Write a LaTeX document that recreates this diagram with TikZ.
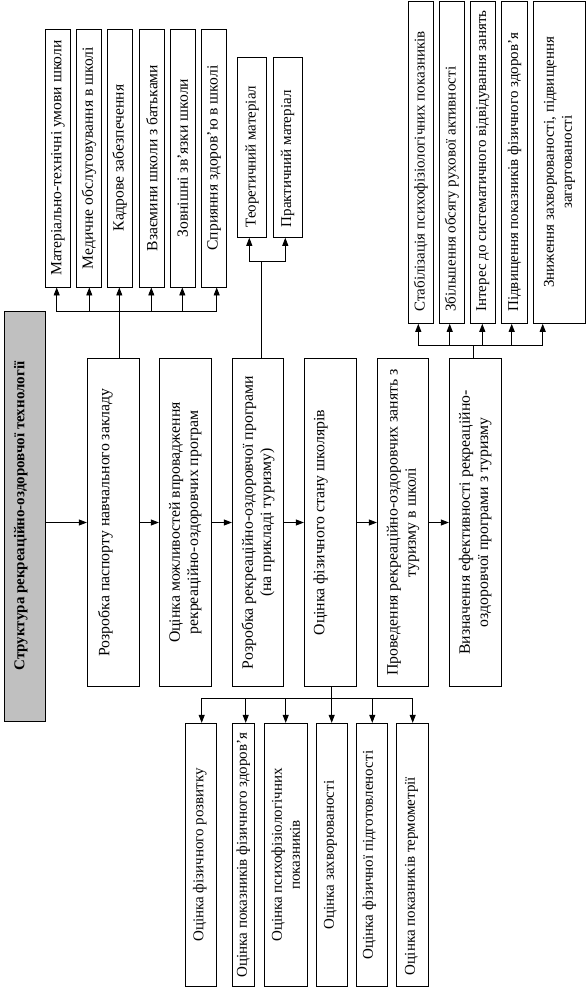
\documentclass[tikz,border=0pt]{standalone}
\usepackage{fontspec}
\setmainfont{Liberation Serif}
\usepackage{graphicx}
\usetikzlibrary{arrows.meta}
\definecolor{titlegray}{HTML}{C0C0C0}
\newcommand\rotc[2]{\rotatebox{90}{\parbox{#1}{\centering #2}}}
\newcommand\rotl[2]{\rotatebox{90}{\parbox{#1}{\raggedright\mbox{#2}}}}
\newcommand\rots[1]{\rotatebox{90}{#1}}
% rotated single line, shifted to the page-left by half of #1
\newcommand\rotsd[2]{\rotatebox{90}{#2\rule[-#1]{0pt}{#1}}}
\begin{document}
\begin{tikzpicture}[x=1pt,y=-1pt,
  box/.style={draw, line width=0.9pt, inner sep=0pt, fill=white,
    font=\fontsize{15}{18}\selectfont},
  topbox/.style={box, font=\fontsize{15.6}{18}\selectfont},
  mainbox/.style={box, font=\fontsize{15.8}{18.3}\selectfont},
  conn/.style={line width=0.9pt},
  arr/.style={conn,-{Triangle[length=8pt,width=6pt]}}]
\useasboundingbox (0,0) rectangle (586,988);
% top-left group
\node[topbox, minimum width=25pt, minimum height=258pt] (m1) at (58,158) {\rots{Матеріально-технічні умови школи}};
\node[topbox, minimum width=25pt, minimum height=258pt] (m2) at (89,158) {\rots{Медичне обслуговування в школі}};
\node[topbox, minimum width=25pt, minimum height=258pt] (m3) at (119.8,158) {\rots{Кадрове забезпечення}};
\node[topbox, minimum width=25pt, minimum height=258pt] (m4) at (151.8,158) {\rots{Взаємини школи з батьками}};
\node[topbox, minimum width=25pt, minimum height=258pt] (m5) at (182.8,158) {\rots{Зовнішні зв’язки школи}};
\node[topbox, minimum width=25pt, minimum height=258pt] (m6) at (214,158) {\rots{Сприяння здоров’ю в школі}};
% theory group
\node[box, minimum width=29.4pt, minimum height=180pt] (t1) at (252,147.3) {\rotl{160pt}{Теоретичний матеріал}};
\node[box, minimum width=28.7pt, minimum height=180pt] (t2) at (287.7,147.3) {\rotl{160pt}{Практичний матеріал}};
% top-right group
\node[box, minimum width=25pt, minimum height=322.3pt] (r1) at (420.8,162.2) {\rotl{299pt}{Стабілізація психофізіологічних показників}};
\node[box, minimum width=25pt, minimum height=322.3pt] (r2) at (451.8,162.2) {\rotl{299pt}{Збільшення обсягу рухової активності}};
\node[box, minimum width=25pt, minimum height=322.3pt] (r3) at (482.8,162.2) {\rotl{299pt}{Інтерес до систематичного відвідування занять}};
\node[box, minimum width=26.4pt, minimum height=322.3pt] (r4) at (514.5,162.2) {\rotl{299pt}{Підвищення показників фізичного здоров’я}};
\node[box, minimum width=52.4pt, minimum height=322.3pt] (r5) at (559.5,162.2) {\rotc{300pt}{Зниження захворюваності, підвищення\\загартованості}};
% main row
\node[box, fill=titlegray, minimum width=41.3pt, minimum height=410pt, font=\fontsize{15}{18}\selectfont\bfseries] (G) at (24.65,516) {\rotsd{11pt}{Структура рекреаційно-оздоровчої технології}};
\node[mainbox, minimum width=52pt, minimum height=328.4pt] (A) at (113.3,522.5) {\rotsd{19pt}{Розробка паспорту навчального закладу}};
\node[mainbox, minimum width=52pt, minimum height=328.4pt] (B) at (185.3,522.5) {\rotc{320pt}{Оцінка можливостей впровадження\\рекреаційно-оздоровчих програм}};
\node[mainbox, minimum width=51.4pt, minimum height=328.4pt] (C) at (258,522.5) {\rotc{320pt}{Розробка рекреаційно-оздоровчої програми\\(на прикладі туризму)}};
\node[mainbox, minimum width=52.4pt, minimum height=328.4pt] (D) at (330.5,522.5) {\rotsd{23pt}{Оцінка фізичного стану школярів}};
\node[mainbox, minimum width=51.4pt, minimum height=328.4pt] (E) at (403,522.5) {\rotc{320pt}{Проведення рекреаційно-оздоровчих занять з\\туризму в школі}};
\node[mainbox, minimum width=52pt, minimum height=328.4pt] (F) at (475.3,522.5) {\rotc{320pt}{Визначення ефективності рекреаційно-\\оздоровчої програми з туризму}};
% bottom group
\node[box, minimum width=31pt, minimum height=263.4pt] (b1) at (201.2,855) {\rotsd{6pt}{Оцінка фізичного розвитку}};
\node[box, minimum width=22pt, minimum height=263.4pt] (b2) at (243.3,855) {\rots{Оцінка показників фізичного здоров’я}};
\node[box, minimum width=43pt, minimum height=263.4pt] (b3) at (285.8,855) {\rotc{250pt}{Оцінка психофізіологічних\\показників}};
\node[box, minimum width=30.6pt, minimum height=263.4pt] (b4) at (332,855) {\rotsd{6pt}{Оцінка захворюваності}};
\node[box, minimum width=31.3pt, minimum height=263.4pt] (b5) at (371.7,855) {\rotsd{8pt}{Оцінка фізичної підготовленості}};
\node[box, minimum width=31.6pt, minimum height=263.4pt] (b6) at (412.5,855) {\rotl{240pt}{Оцінка показників термометрії\rule[-5pt]{0pt}{5pt}}};
% main arrows
\draw[arr] (A.west -| G.east) -- (A.west);
\draw[arr] (B.west -| A.east) -- (B.west);
\draw[arr] (C.west -| B.east) -- (C.west);
\draw[arr] (D.west -| C.east) -- (D.west);
\draw[arr] (E.west -| D.east) -- (E.west);
\draw[arr] (F.west -| E.east) -- (F.west);
% top-left bus
\coordinate (tlj) at (119.3,311.7);
\coordinate (tlL) at (56.7,311.7);
\coordinate (tlR) at (216.7,311.7);
\draw[conn] (A.north -| tlj) -- (tlj);
\draw[conn] (tlL) -- (tlR);
\foreach \x/\n in {56.7/m1, 89.3/m2, 119.3/m3, 151.3/m4, 182.3/m5, 216.7/m6} {
  \coordinate (p\n) at (\x,311.7);
  \draw[arr] (p\n) -- (p\n |- \n.south);
}
% theory bus
\coordinate (thj) at (261.7,261.7);
\coordinate (thL) at (249.3,261.7);
\coordinate (thR) at (285.3,261.7);
\draw[conn] (C.north -| thj) -- (thj);
\draw[conn] (thL) -- (thR);
\foreach \x/\n in {249.3/t1, 285.3/t2} {
  \coordinate (p\n) at (\x,261.7);
  \draw[arr] (p\n) -- (p\n |- \n.south);
}
% top-right bus
\coordinate (trj) at (473.3,345.7);
\coordinate (trL) at (418.3,345.7);
\coordinate (trR) at (542.7,345.7);
\draw[conn] (F.north -| trj) -- (trj);
\draw[conn] (trL) -- (trR);
\foreach \x/\n in {418.3/r1, 449.7/r2, 482.3/r3, 511.7/r4, 542.7/r5} {
  \coordinate (p\n) at (\x,345.7);
  \draw[arr] (p\n) -- (p\n |- \n.south);
}
% bottom bus
\coordinate (btj) at (331.7,698.3);
\coordinate (btL) at (201.7,698.3);
\coordinate (btR) at (412.7,698.3);
\draw[conn] (D.south -| btj) -- (btj);
\draw[conn] (btL) -- (btR);
\foreach \x/\n in {201.7/b1, 245.7/b2, 285.7/b3, 331.7/b4, 372.3/b5, 412.7/b6} {
  \coordinate (p\n) at (\x,698.3);
  \draw[arr] (p\n) -- (p\n |- \n.north);
}
\end{tikzpicture}
\end{document}
